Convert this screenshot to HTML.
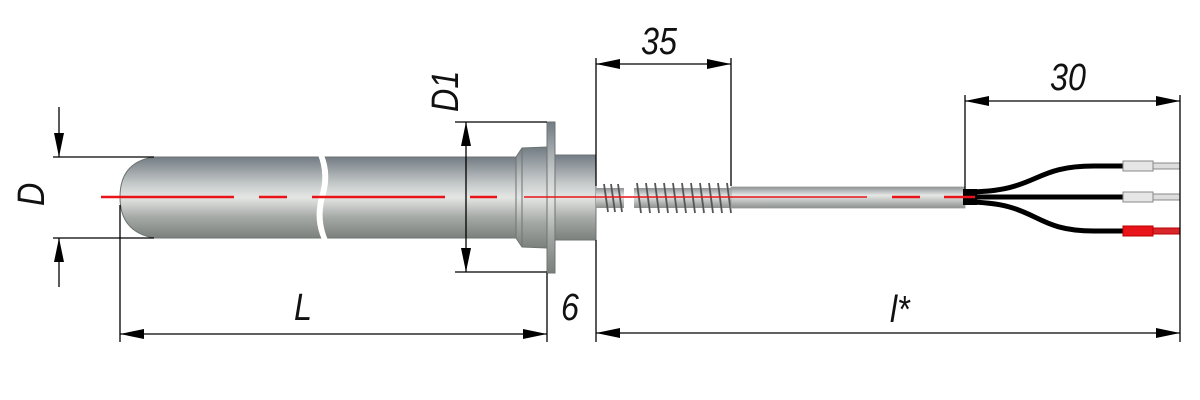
<!DOCTYPE html>
<html><head><meta charset="utf-8"><style>
html,body{margin:0;padding:0;background:#fff;width:1200px;height:400px;overflow:hidden}
text{font-family:"Liberation Sans",sans-serif;font-style:italic;font-size:38px;fill:#111}
</style></head><body>
<svg width="1200" height="400" viewBox="0 0 1200 400" xmlns="http://www.w3.org/2000/svg">
<defs>
<linearGradient id="g" x1="0" y1="0" x2="0" y2="1">
<stop offset="0" stop-color="#737c84"/><stop offset="0.35" stop-color="#c9cdcd"/><stop offset="0.5" stop-color="#e4e6e4"/><stop offset="0.75" stop-color="#a4a8a5"/><stop offset="1" stop-color="#7b807d"/>
</linearGradient>
<linearGradient id="gs" x1="0" y1="0" x2="0" y2="1">
<stop offset="0" stop-color="#8d9294"/><stop offset="0.4" stop-color="#e6e8e6"/><stop offset="1" stop-color="#8c908e"/>
</linearGradient>
<marker id="a" viewBox="0 0 24 10" refX="24" refY="5" markerWidth="24" markerHeight="10" markerUnits="userSpaceOnUse" orient="auto-start-reverse"><path d="M0,0L24,5L0,10z" fill="#000"/></marker>
</defs>
<path d="M154,157 L516,157 L516,238 L154,238 Q120,232 120,197 Q120,162 154,157Z" fill="url(#g)" stroke="#6d7470" stroke-width="1"/>
<path d="M318,155 Q326,175 319,197 Q313,220 322,240 L328,240 Q319,220 325,197 Q332,175 324,155Z" fill="#fff"/>
<path d="M516,157 L522,148 L547,147 L547,248 L522,247 L516,238Z" fill="url(#g)" stroke="#6d7470"/>
<line x1="522" y1="148" x2="522" y2="247" stroke="#6d7470"/>
<rect x="547" y="122" width="8" height="151" fill="url(#g)" stroke="#6d7470"/>
<rect x="555" y="155" width="41" height="85" fill="url(#g)" stroke="#6d7470"/>
<rect x="596" y="188" width="140" height="20" fill="url(#gs)"/>
<g stroke="#555" stroke-width="1.8" fill="none">
<path d="M604,184 L608,212 M611,184 L615,212 M618,184 L622,212"/>
<path d="M637,183 L641,213 M646,183 L650,213 M655,183 L659,213 M664,183 L668,213 M673,183 L677,213 M682,183 L686,213 M691,183 L695,213 M700,183 L704,213 M709,183 L713,213 M718,183 L722,213 M727,183 L731,213"/>
</g>
<rect x="624" y="186" width="10" height="24" fill="#fff"/>
<rect x="731" y="187" width="234" height="21" fill="url(#gs)" stroke="#999" stroke-width="0.8"/>
<g fill="none" stroke="#000" stroke-width="5">
<path d="M965,192 C1040,192 1030,166 1094,166 L1123,166"/>
<line x1="965" y1="197" x2="1123" y2="197"/>
<path d="M965,202 C1040,202 1030,231 1094,231 L1123,231"/>
</g>
<rect x="963" y="189" width="14" height="16" fill="#000"/>
<g stroke="#888" stroke-width="1">
<rect x="1123" y="161" width="30" height="10" fill="#e6e6e6"/><rect x="1153" y="163" width="27" height="6" fill="#ddd"/>
<rect x="1123" y="192" width="30" height="10" fill="#e6e6e6"/><rect x="1153" y="194" width="27" height="6" fill="#ddd"/>
<rect x="1123" y="226" width="30" height="10" fill="#e8141a" stroke="#b00"/><rect x="1153" y="228" width="27" height="6" fill="#d8262a" stroke="#b00"/>
</g>
<g stroke="#e8141a" stroke-width="2.5">
<line x1="101" y1="197" x2="234" y2="197"/><line x1="259" y1="197" x2="287" y2="197"/>
<line x1="312" y1="197" x2="445" y2="197"/><line x1="470" y1="197" x2="497" y2="197"/>
<line x1="524" y1="197" x2="867" y2="197" stroke-width="1.5"/><line x1="892" y1="197" x2="920" y2="197"/>
<line x1="944" y1="197" x2="975" y2="197"/>
</g>
<g stroke="#000" stroke-width="1.3" fill="none">
<line x1="53" y1="157" x2="154" y2="157"/><line x1="53" y1="238" x2="154" y2="238"/>
<line x1="59" y1="107" x2="59" y2="157" marker-end="url(#a)"/>
<line x1="59" y1="287" x2="59" y2="238" marker-end="url(#a)"/>
<line x1="455" y1="122" x2="547" y2="122"/><line x1="455" y1="272" x2="547" y2="272"/>
<line x1="466" y1="122" x2="466" y2="272" marker-start="url(#a)" marker-end="url(#a)"/>
<line x1="120" y1="205" x2="120" y2="342"/>
<line x1="547" y1="273" x2="547" y2="342"/>
<line x1="120" y1="334" x2="547" y2="334" marker-start="url(#a)" marker-end="url(#a)"/>
<line x1="596" y1="58" x2="596" y2="186"/><line x1="596" y1="240" x2="596" y2="342"/>
<line x1="731" y1="58" x2="731" y2="186"/>
<line x1="596" y1="64" x2="731" y2="64" marker-start="url(#a)" marker-end="url(#a)"/>
<line x1="965" y1="95" x2="965" y2="190"/>
<line x1="1180" y1="95" x2="1180" y2="342"/>
<line x1="965" y1="101" x2="1180" y2="101" marker-start="url(#a)" marker-end="url(#a)"/>
<line x1="596" y1="333" x2="1180" y2="333" marker-start="url(#a)" marker-end="url(#a)"/>
</g>
<text transform="translate(44,206) rotate(-90) scale(0.85,1)">D</text>
<text transform="translate(458,112) rotate(-90) scale(0.85,1)">D1</text>
<text transform="translate(294,320) scale(0.85,1)">L</text>
<text transform="translate(561,320) scale(0.85,1)">6</text>
<text transform="translate(641,54) scale(0.85,1)">35</text>
<text transform="translate(1050,90) scale(0.85,1)">30</text>
<text transform="translate(890,322) scale(0.85,1)">l*</text>
</svg>
</body></html>
